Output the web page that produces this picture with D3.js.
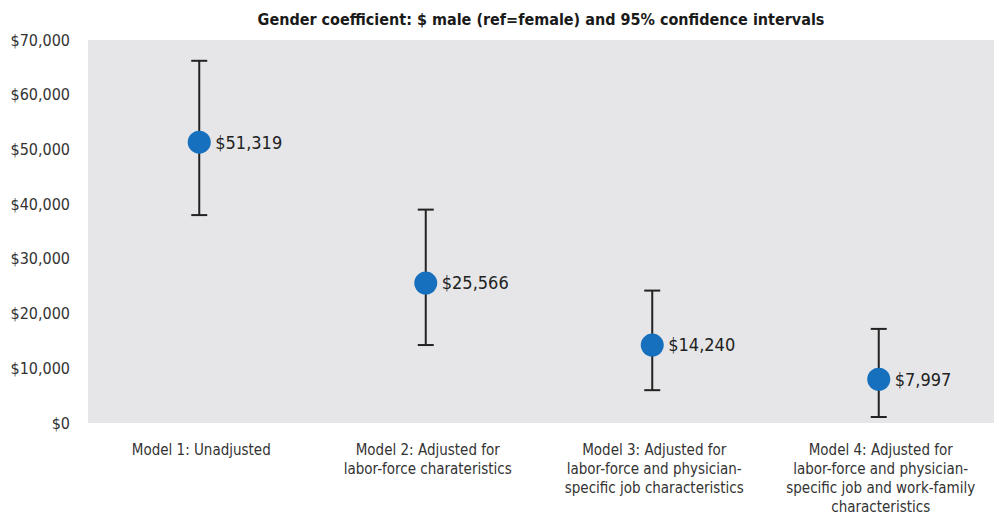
<!DOCTYPE html>
<html>
<head>
<meta charset="utf-8">
<script src="https://cdn.jsdelivr.net/npm/d3@7"></script>
<style>
  body { margin: 0; background: #fff; }
  text { font-family: "Liberation Sans Narrow", "DejaVu Sans Condensed", sans-serif; }
</style>
</head>
<body>
<script>
// chart size
var w = 999, h = 518;
var margin = {top: 40, right: 5, bottom: 95, left: 88};

// data
var models = [
  ["Model 1: Unadjusted"],
  ["Model 2: Adjusted for", "labor-force charateristics"],
  ["Model 3: Adjusted for", "labor-force and physician-", "specific job characteristics"],
  ["Model 4: Adjusted for", "labor-force and physician-", "specific job and work-family", "characteristics"]
];
var coef = [51319, 25566, 14240, 7997];
var lower = [38000, 14250, 6000, 1100];
var upper = [66200, 39000, 24200, 17200];
var yTicks = [0, 10000, 20000, 30000, 40000, 50000, 60000, 70000];

var svg = d3.select("body").append("svg")
    .attr("width", w)
    .attr("height", h);

var x = d3.scaleBand()
    .domain(d3.range(models.length))
    .range([margin.left, w - margin.right]);

var y = d3.scaleLinear()
    .domain([0, 70000])
    .range([h - margin.bottom, margin.top]);

// gray plot background
svg.append("rect")
    .attr("x", margin.left)
    .attr("y", margin.top)
    .attr("width", w - margin.right - margin.left)
    .attr("height", h - margin.bottom - margin.top)
    .style("fill", "#e6e6e8");

// title
svg.append("text")
    .attr("x", 541)
    .attr("y", 25)
    .attr("text-anchor", "middle")
    .style("font-weight", "bold")
    .style("font-size", "16px")
    .style("fill", "#1a1a1a")
    .text("Gender coefficient: $ male (ref=female) and 95% confidence intervals");

// y axis labels
var fmt = d3.format("$,");
var yAxis = svg.append("g")
    .attr("transform", "translate(" + (margin.left - 18) + ",0)")
    .call(d3.axisLeft(y).tickValues(yTicks).tickFormat(fmt).tickSize(0).tickPadding(0));
yAxis.select(".domain").remove();
yAxis.selectAll("text")
    .style("font-size", "16px")
    .style("fill", "#333")
    .style("font-family", "'Liberation Sans Narrow', 'DejaVu Sans Condensed', sans-serif");

// x labels (multi-line)
var xl = svg.append("g").selectAll("text")
    .data(models)
    .enter().append("text")
    .attr("x", function(d, i){ return x(i) + x.bandwidth() / 2; })
    .attr("y", 455)
    .attr("text-anchor", "middle")
    .style("font-size", "15px")
    .style("fill", "#333");
xl.selectAll("tspan")
    .data(function(d){ return d; })
    .enter().append("tspan")
    .attr("x", function(){ return this.parentNode.getAttribute("x"); })
    .attr("dy", function(d, j){ return j === 0 ? 0 : 19; })
    .text(function(d){ return d; });

// error bars
var cx = function(d, i){ return x(i) + x.bandwidth() / 2 - 2; };
var bars = svg.append("g").selectAll("g")
    .data(coef)
    .enter().append("g")
    .attr("transform", function(d, i){ return "translate(" + cx(d, i) + ",0)"; });

bars.append("line")
    .attr("y1", function(d, i){ return y(lower[i]); })
    .attr("y2", function(d, i){ return y(upper[i]); })
    .style("stroke", "#222")
    .style("stroke-width", 2);
bars.append("line")
    .attr("x1", -8).attr("x2", 8)
    .attr("y1", function(d, i){ return y(upper[i]); })
    .attr("y2", function(d, i){ return y(upper[i]); })
    .style("stroke", "#222")
    .style("stroke-width", 2);
bars.append("line")
    .attr("x1", -8).attr("x2", 8)
    .attr("y1", function(d, i){ return y(lower[i]); })
    .attr("y2", function(d, i){ return y(lower[i]); })
    .style("stroke", "#222")
    .style("stroke-width", 2);

// points
bars.append("circle")
    .attr("cy", function(d){ return y(d); })
    .attr("r", 11.5)
    .style("fill", "#1670bd");

// value labels
bars.append("text")
    .attr("x", 16)
    .attr("y", function(d){ return y(d); })
    .attr("dy", "0.35em")
    .style("font-size", "18px")
    .style("fill", "#222")
    .text(function(d){ return fmt(d); });
</script>
</body>
</html>
